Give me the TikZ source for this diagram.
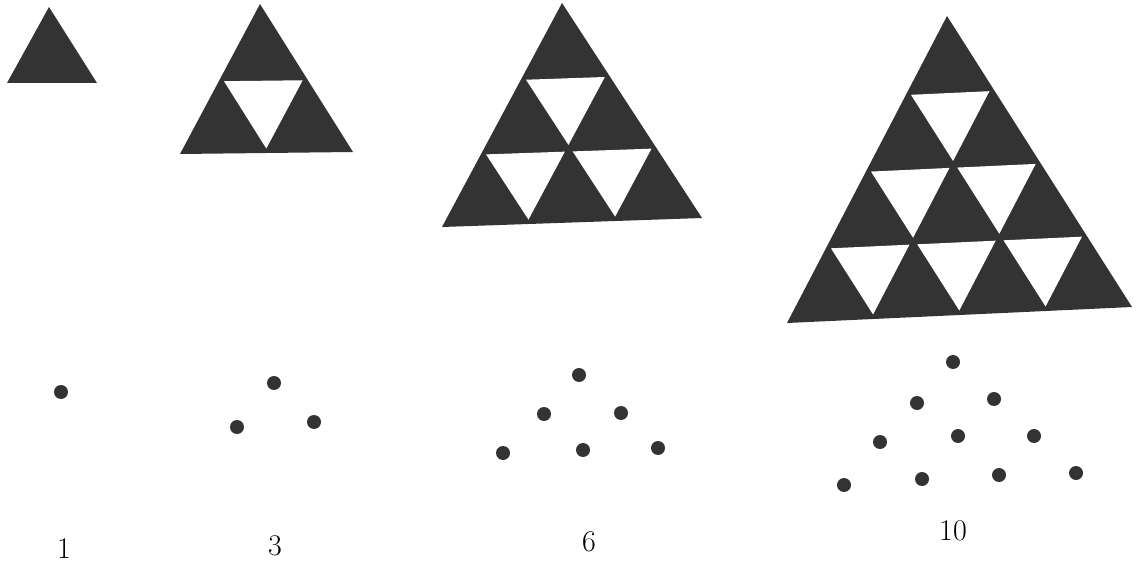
\documentclass[tikz,border=0pt]{standalone}
\usepackage{tikz}

\tikzset{
  tri/.style={fill=black!80},
  hole/.style={fill=white},
  dot/.style={circle, fill=black!80, inner sep=0pt, minimum size=14pt},
  num/.style={font=\fontsize{30}{32}\selectfont, inner sep=0pt}
}

% big triangle cut into rows of small ones:
% apex x,y; left corner x,y; right corner x,y; number of rows
\newcommand{\trigrid}[7]{%
  \pgfmathsetmacro{\ux}{(#5-#3)/#7}
  \pgfmathsetmacro{\uy}{(#4-#6)/#7}
  \pgfmathsetmacro{\vx}{(#1-#3)/#7}
  \pgfmathsetmacro{\vy}{(#4-#2)/#7}
  \pgfmathtruncatemacro{\nm}{#7-2}
  \begin{scope}[shift={(#3,#4)}, x={(\ux pt,\uy pt)}, y={(\vx pt,\vy pt)}]
    \fill[tri] (0,0) -- (#7,0) -- (0,#7) -- cycle;
    \ifnum#7>1
    \foreach \i in {0,...,\nm}{
      \pgfmathtruncatemacro{\jm}{\nm-\i}
      \foreach \j in {0,...,\jm}
        \fill[hole] (\i+0.97,\j+0.06) -- (\i+0.06,\j+0.97) -- (\i+0.97,\j+0.97) -- cycle;
    }
    \fi
  \end{scope}
}

\begin{document}
\begin{tikzpicture}[x=1pt, y=-1pt]
  \useasboundingbox (0,0) rectangle (1138,564);
  % Triangles
  \trigrid{49}{7}{7}{83}{97}{83}{1}
  \trigrid{260}{4}{180}{154}{353}{152}{2}
  \trigrid{562}{3}{442}{227}{702}{218}{3}
  \trigrid{947}{16}{787}{323}{1132}{307}{4}
  % Dots
  \node[dot] (a1) at (61,392) {};
  \foreach \x/\y [count=\k] in {274/383, 237/427, 314/422}
    \node[dot] (b\k) at (\x,\y) {};
  \foreach \x/\y [count=\k] in {579/375, 544/414, 621/413, 503/453, 583/450, 658/448}
    \node[dot] (c\k) at (\x,\y) {};
  \foreach \x/\y [count=\k] in {953/362, 917/403, 994/399, 880/442, 958/436,
      1034/436, 844/485, 922/479, 999/475, 1076/473}
    \node[dot] (d\k) at (\x,\y) {};
  % Numbers
  \node[num] (n1) at (64,549) {1};
  \node[num] (n3) at (275,546) {3};
  \node[num] (n6) at (589,542) {6};
  \node[num] (n10) at (953,531) {10};
\end{tikzpicture}
\end{document}
